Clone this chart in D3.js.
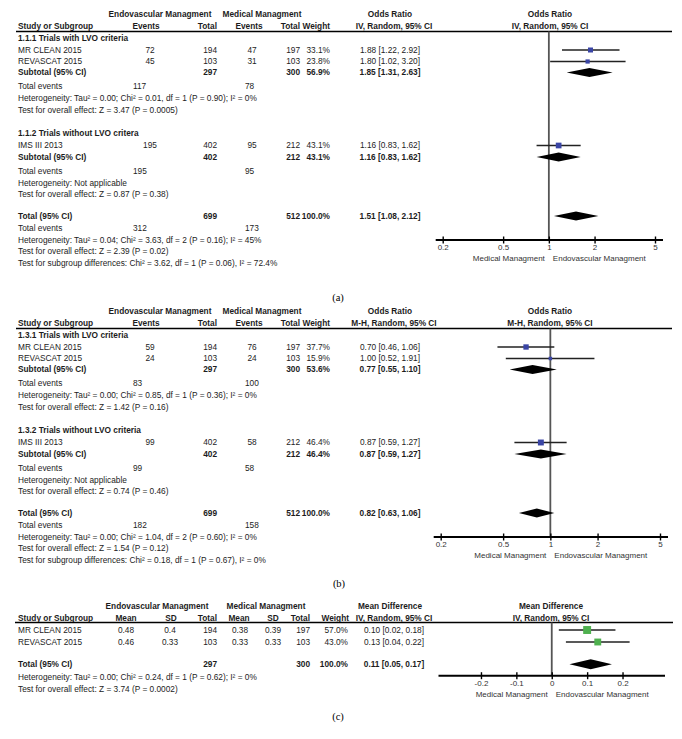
<!DOCTYPE html>
<html>
<head>
<meta charset="utf-8">
<script src="https://cdn.jsdelivr.net/npm/d3@7"></script>
<style>
  body { margin: 0; background: #fff; }
  svg text { font-family: "Liberation Sans", Arial, sans-serif; font-size: 8.3px; fill: #1c1c1c; }
  svg text.ax { font-size: 8px; fill: #333; }
  svg text.lab { font-family: "Liberation Serif", "Times New Roman", serif; font-size: 10.5px; fill: #000; }
</style>
</head>
<body>
<svg id="chart" width="682" height="739"></svg>
<script>
// studies (same three trials in every panel)
const studies = ["MR CLEAN 2015", "REVASCAT 2015", "IMS III 2013"];

// panel (a)
const aGroups = ["1.1.1 Trials with LVO criteria", "1.1.2 Trials without LVO critera"];
const aEndoEvents = [72, 45, 195];
const aEndoTotal = [194, 103, 402];
const aMedEvents = [47, 31, 95];
const aMedTotal = [197, 103, 212];
const aWeight = [33.1, 23.8, 43.1];
const aOR = [1.88, 1.80, 1.16];
const aLow = [1.22, 1.02, 0.83];
const aHigh = [2.92, 3.20, 1.62];
const aSubEndoEvents = [117, 195];
const aSubMedEvents = [78, 95];
const aSubEndoTotal = [297, 402];
const aSubMedTotal = [300, 212];
const aSubWeight = [56.9, 43.1];
const aSubOR = [1.85, 1.16];
const aSubLow = [1.31, 0.83];
const aSubHigh = [2.63, 1.62];
const aSubHet = ["Heterogeneity: Tau² = 0.00; Chi² = 0.01, df = 1 (P = 0.90); I² = 0%", "Heterogeneity: Not applicable"];
const aSubTest = ["Test for overall effect: Z = 3.47 (P = 0.0005)", "Test for overall effect: Z = 0.87 (P = 0.38)"];
const aTotalN = [699, 512];
const aTotalEvents = [312, 173];
const aTotalOR = [1.51, 1.08, 2.12];
const aTotalNotes = [
  "Heterogeneity: Tau² = 0.04; Chi² = 3.63, df = 2 (P = 0.16); I² = 45%",
  "Test for overall effect: Z = 2.39 (P = 0.02)",
  "Test for subgroup differences: Chi² = 3.62, df = 1 (P = 0.06), I² = 72.4%"
];

// panel (b)
const bGroups = ["1.3.1 Trials with LVO criteria", "1.3.2 Trials without LVO criteria"];
const bEndoEvents = [59, 24, 99];
const bEndoTotal = [194, 103, 402];
const bMedEvents = [76, 24, 58];
const bMedTotal = [197, 103, 212];
const bWeight = [37.7, 15.9, 46.4];
const bOR = [0.70, 1.00, 0.87];
const bLow = [0.46, 0.52, 0.59];
const bHigh = [1.06, 1.91, 1.27];
const bSubEndoEvents = [83, 99];
const bSubMedEvents = [100, 58];
const bSubEndoTotal = [297, 402];
const bSubMedTotal = [300, 212];
const bSubWeight = [53.6, 46.4];
const bSubOR = [0.77, 0.87];
const bSubLow = [0.55, 0.59];
const bSubHigh = [1.10, 1.27];
const bSubHet = ["Heterogeneity: Tau² = 0.00; Chi² = 0.85, df = 1 (P = 0.36); I² = 0%", "Heterogeneity: Not applicable"];
const bSubTest = ["Test for overall effect: Z = 1.42 (P = 0.16)", "Test for overall effect: Z = 0.74 (P = 0.46)"];
const bTotalN = [699, 512];
const bTotalEvents = [182, 158];
const bTotalOR = [0.82, 0.63, 1.06];
const bTotalNotes = [
  "Heterogeneity: Tau² = 0.00; Chi² = 1.04, df = 2 (P = 0.60); I² = 0%",
  "Test for overall effect: Z = 1.54 (P = 0.12)",
  "Test for subgroup differences: Chi² = 0.18, df = 1 (P = 0.67), I² = 0%"
];

// panel (c)
const cEndoMean = [0.48, 0.46];
const cEndoSD = [0.4, 0.33];
const cEndoTotal = [194, 103];
const cMedMean = [0.38, 0.33];
const cMedSD = [0.39, 0.33];
const cMedTotal = [197, 103];
const cWeight = [57.0, 43.0];
const cMD = [0.10, 0.13];
const cLow = [0.02, 0.04];
const cHigh = [0.18, 0.22];
const cTotalN = [297, 300];
const cTotalMD = [0.11, 0.05, 0.17];
const cTotalNotes = [
  "Heterogeneity: Tau² = 0.00; Chi² = 0.24, df = 1 (P = 0.62); I² = 0%",
  "Test for overall effect: Z = 3.74 (P = 0.0002)"
];

const orTicks = [0.2, 0.5, 1, 2, 5];
const mdTicks = [-0.2, -0.1, 0, 0.1, 0.2];

const svg = d3.select("#chart");
const f2 = d3.format(".2f");
const f1 = d3.format(".1f");
const ci = (e, l, h) => `${f2(e)} [${f2(l)}, ${f2(h)}]`;

function txt(g, x, y, s, anchor, bold, cls) {
  return g.append("text")
    .attr("x", x).attr("y", y).attr("dy", "0.35em")
    .attr("text-anchor", anchor || "start")
    .attr("font-weight", bold ? "bold" : null)
    .attr("class", cls || null)
    .text(s);
}

function hline(g, x1, x2, y, color, w) {
  g.append("line").attr("x1", x1).attr("x2", x2).attr("y1", y).attr("y2", y)
    .attr("stroke", color).attr("stroke-width", w);
}

function diamond(g, x, y, est, lo, hi, h) {
  g.append("path")
    .attr("d", `M${x(lo)},${y}L${x(est)},${y - h}L${x(hi)},${y}L${x(est)},${y + h}Z`)
    .attr("fill", "#000");
}

function drawAxis(g, x, y, ticks, ext) {
  const r = x.range();
  hline(g, r[0] - ext[0], r[1] + ext[1], y, "#000", 2);
  const ax = g.append("g").attr("transform", `translate(0,${y})`)
    .call(d3.axisBottom(x).tickValues(ticks).tickFormat(d => d).tickSize(3.5).tickSizeOuter(0).tickPadding(1.3));
  ax.select(".domain").remove();
  ax.selectAll(".tick line").attr("y1", -3.5).attr("stroke", "#000").attr("stroke-width", 1.4);
  ax.selectAll(".tick text").attr("class", "ax");
}

// rows of the odds ratio panels, relative to the first header line
const R = {
  head1: 0, head2: 11.5, rule: 17,
  group: [24, 118.5], study: [35.5, 47, 131],
  sub: [58, 142.5], subEv: [72, 156.5], subHet: [84, 168.5], subTest: [96, 180],
  total: 201.5, totEv: 213.5, notes: [225.5, 236.5, 248.5],
  axis: 225.5, axTitle: 243.5
};
const C = { label: 18, endoEv: 150, endoTot: 217, medEv: 252, medTot: 300, weight: 330, est: 390, plot: 550, evSumEndo: 133, evSumMed: 245 };

function drawORPanel(y0, p) {
  const g = svg.append("g").attr("transform", `translate(0,${y0})`);
  const x = d3.scaleLog().domain([0.2, 5]).range(p.range);
  const size = d3.scaleSqrt().domain([0, 100]).range([0, 8.7]);

  txt(g, 160, R.head1, "Endovascular Managment", "middle", true);
  txt(g, 262, R.head1, "Medical Managment", "middle", true);
  txt(g, C.est, R.head1, "Odds Ratio", "middle", true);
  txt(g, C.plot, R.head1, "Odds Ratio", "middle", true);
  txt(g, C.label, R.head2, "Study or Subgroup", "start", true);
  txt(g, 146, R.head2, "Events", "middle", true);
  txt(g, C.endoTot, R.head2, "Total", "end", true);
  txt(g, 249, R.head2, "Events", "middle", true);
  txt(g, C.medTot, R.head2, "Total", "end", true);
  txt(g, C.weight, R.head2, "Weight", "end", true);
  txt(g, 394, R.head2, p.method, "middle", true);
  txt(g, C.plot, R.head2, p.method, "middle", true);
  hline(g, 16, 672, R.rule, "#000", 1.5);

  // line of no effect
  g.append("line").attr("x1", x(1)).attr("x2", x(1)).attr("y1", R.rule).attr("y2", R.axis)
    .attr("stroke", "#555").attr("stroke-width", 1.8);

  p.groups.forEach((name, gi) => {
    txt(g, C.label, R.group[gi], name, "start", true);
    txt(g, C.label, R.sub[gi], "Subtotal (95% CI)", "start", true);
    txt(g, C.endoTot, R.sub[gi], p.subEndoTotal[gi], "end", true);
    txt(g, C.medTot, R.sub[gi], p.subMedTotal[gi], "end", true);
    txt(g, C.weight, R.sub[gi], f1(p.subWeight[gi]) + "%", "end", true);
    txt(g, C.est, R.sub[gi], ci(p.subOR[gi], p.subLow[gi], p.subHigh[gi]), "middle", true);
    diamond(g, x, R.sub[gi], p.subOR[gi], p.subLow[gi], p.subHigh[gi], 4.5);
    txt(g, C.label, R.subEv[gi], "Total events");
    txt(g, C.evSumEndo, R.subEv[gi], p.subEndoEvents[gi]);
    txt(g, C.evSumMed, R.subEv[gi], p.subMedEvents[gi]);
    txt(g, C.label, R.subHet[gi], p.subHet[gi]);
    txt(g, C.label, R.subTest[gi], p.subTest[gi]);
  });

  studies.forEach((s, i) => {
    const y = R.study[i];
    txt(g, C.label, y, s);
    txt(g, C.endoEv, y, p.endoEvents[i], "middle");
    txt(g, C.endoTot, y, p.endoTotal[i], "end");
    txt(g, C.medEv, y, p.medEvents[i], "middle");
    txt(g, C.medTot, y, p.medTotal[i], "end");
    txt(g, C.weight, y, f1(p.weight[i]) + "%", "end");
    txt(g, C.est, y, ci(p.or[i], p.low[i], p.high[i]), "middle");
    g.append("line").attr("x1", x(p.low[i])).attr("x2", x(p.high[i])).attr("y1", y).attr("y2", y)
      .attr("stroke", "#222").attr("stroke-width", 1.4);
    const s2 = size(p.weight[i]);
    g.append("rect").attr("x", x(p.or[i]) - s2 / 2).attr("y", y - s2 / 2)
      .attr("width", s2).attr("height", s2).attr("fill", "#3a45a5");
  });

  txt(g, C.label, R.total, "Total (95% CI)", "start", true);
  txt(g, C.endoTot, R.total, p.totalN[0], "end", true);
  txt(g, C.medTot, R.total, p.totalN[1], "end", true);
  txt(g, C.weight, R.total, "100.0%", "end", true);
  txt(g, C.est, R.total, ci(...p.totalOR), "middle", true);
  diamond(g, x, R.total, ...p.totalOR, 4.5);
  txt(g, C.label, R.totEv, "Total events");
  txt(g, C.evSumEndo, R.totEv, p.totalEvents[0]);
  txt(g, C.evSumMed, R.totEv, p.totalEvents[1]);
  p.totalNotes.forEach((n, k) => txt(g, C.label, R.notes[k], n));

  drawAxis(g, x, R.axis, orTicks, [7, 8]);
  txt(g, x(1) - 4, R.axTitle, "Medical Managment", "end", false, "ax");
  txt(g, x(1) + 4, R.axTitle, "Endovascular Managment", "start", false, "ax");
}

drawORPanel(14.5, {
  method: "IV, Random, 95% CI", range: [442.7, 655], groups: aGroups,
  endoEvents: aEndoEvents, endoTotal: aEndoTotal, medEvents: aMedEvents, medTotal: aMedTotal,
  weight: aWeight, or: aOR, low: aLow, high: aHigh,
  subEndoEvents: aSubEndoEvents, subMedEvents: aSubMedEvents, subEndoTotal: aSubEndoTotal,
  subMedTotal: aSubMedTotal, subWeight: aSubWeight, subOR: aSubOR, subLow: aSubLow, subHigh: aSubHigh,
  subHet: aSubHet, subTest: aSubTest, totalN: aTotalN, totalEvents: aTotalEvents,
  totalOR: aTotalOR, totalNotes: aTotalNotes
});

drawORPanel(311.5, {
  method: "M-H, Random, 95% CI", range: [440.7, 660], groups: bGroups,
  endoEvents: bEndoEvents, endoTotal: bEndoTotal, medEvents: bMedEvents, medTotal: bMedTotal,
  weight: bWeight, or: bOR, low: bLow, high: bHigh,
  subEndoEvents: bSubEndoEvents, subMedEvents: bSubMedEvents, subEndoTotal: bSubEndoTotal,
  subMedTotal: bSubMedTotal, subWeight: bSubWeight, subOR: bSubOR, subLow: bSubLow, subHigh: bSubHigh,
  subHet: bSubHet, subTest: bSubTest, totalN: bTotalN, totalEvents: bTotalEvents,
  totalOR: bTotalOR, totalNotes: bTotalNotes
});

// panel (c) - mean difference
(function () {
  const g = svg.append("g").attr("transform", "translate(0,606.5)");
  const x = d3.scaleLinear().domain([-0.32, 0.32]).range([438.5, 665]);
  const size = d3.scaleSqrt().domain([0, 100]).range([0, 10.5]);
  const rc = { head1: 0, head2: 11.7, rule: 16, study: [23.5, 35.5], total: 57.7, notes: [70.8, 82.5], axis: 69.2, axTitle: 87.8 };

  txt(g, 157, rc.head1, "Endovascular Managment", "middle", true);
  txt(g, 266, rc.head1, "Medical Managment", "middle", true);
  txt(g, 390, rc.head1, "Mean Difference", "middle", true);
  txt(g, 551, rc.head1, "Mean Difference", "middle", true);
  txt(g, 18, rc.head2, "Study or Subgroup", "start", true);
  txt(g, 126, rc.head2, "Mean", "middle", true);
  txt(g, 171, rc.head2, "SD", "middle", true);
  txt(g, 217, rc.head2, "Total", "end", true);
  txt(g, 239, rc.head2, "Mean", "middle", true);
  txt(g, 273, rc.head2, "SD", "middle", true);
  txt(g, 310, rc.head2, "Total", "end", true);
  txt(g, 349, rc.head2, "Weight", "end", true);
  txt(g, 394, rc.head2, "IV, Random, 95% CI", "middle", true);
  txt(g, 551, rc.head2, "IV, Random, 95% CI", "middle", true);
  hline(g, 15, 673, rc.rule, "#000", 1.5);

  g.append("line").attr("x1", x(0)).attr("x2", x(0)).attr("y1", rc.rule).attr("y2", rc.axis)
    .attr("stroke", "#555").attr("stroke-width", 1.8);

  cMD.forEach((d, i) => {
    const y = rc.study[i];
    txt(g, 18, y, studies[i]);
    txt(g, 126, y, cEndoMean[i], "middle");
    txt(g, 170, y, cEndoSD[i], "middle");
    txt(g, 217, y, cEndoTotal[i], "end");
    txt(g, 240, y, cMedMean[i], "middle");
    txt(g, 273, y, cMedSD[i], "middle");
    txt(g, 310, y, cMedTotal[i], "end");
    txt(g, 348, y, f1(cWeight[i]) + "%", "end");
    txt(g, 394, y, ci(d, cLow[i], cHigh[i]), "middle");
    g.append("line").attr("x1", x(cLow[i])).attr("x2", x(cHigh[i])).attr("y1", y).attr("y2", y)
      .attr("stroke", "#222").attr("stroke-width", 1.4);
    const s2 = size(cWeight[i]);
    g.append("rect").attr("x", x(d) - s2 / 2).attr("y", y - s2 / 2)
      .attr("width", s2).attr("height", s2).attr("fill", "#4fb14f");
  });

  txt(g, 18, rc.total, "Total (95% CI)", "start", true);
  txt(g, 217, rc.total, cTotalN[0], "end", true);
  txt(g, 310, rc.total, cTotalN[1], "end", true);
  txt(g, 348, rc.total, "100.0%", "end", true);
  txt(g, 394, rc.total, ci(...cTotalMD), "middle", true);
  diamond(g, x, rc.total, ...cTotalMD, 5);
  cTotalNotes.forEach((n, k) => txt(g, 18, rc.notes[k], n));

  drawAxis(g, x, rc.axis, mdTicks, [0, 0]);
  txt(g, x(0) - 4, rc.axTitle, "Medical Managment", "end", false, "ax");
  txt(g, x(0) + 4, rc.axTitle, "Endovascular Managment", "start", false, "ax");
})();

// panel captions
txt(svg, 338, 297, "(a)", "middle", false, "lab");
txt(svg, 339, 583, "(b)", "middle", false, "lab");
txt(svg, 338, 716.5, "(c)", "middle", false, "lab");
</script>
</body>
</html>
